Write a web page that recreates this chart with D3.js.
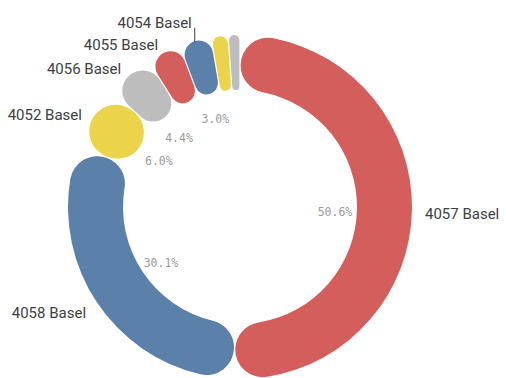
<!DOCTYPE html>
<html>
<head>
<meta charset="utf-8">
<script src="https://cdn.jsdelivr.net/npm/d3@7"></script>
<style>
  html, body { margin: 0; padding: 0; background: #fff; }
  svg { display: block; }
</style>
</head>
<body>
<script>
// Share of records per postal district, sorted by size
const categories = ["4057 Basel", "4058 Basel", "4052 Basel", "4056 Basel", "4055 Basel", "4054 Basel", "4051 Basel", "4053 Basel"];
const shares = [50.6, 30.1, 6.0, 4.4, 3.2, 3.0, 1.6, 1.1];
const palette = ["#d45e5c", "#5b80aa", "#ecd44a", "#bdbdbd"];

const W = 506, H = 378;
const cx = 240, cy = 207;
const rOuter = 172, rInner = 117;
const labelMin = 2.5; // slices below this share get no text

const svg = d3.select("body").append("svg")
  .attr("width", W).attr("height", H);
const g = svg.append("g").attr("transform", `translate(${cx},${cy})`);

const data = categories.map((c, i) => ({ name: c, value: shares[i], idx: i }));

const pie = d3.pie().sort(null).value(d => d.value);
const arcs = pie(data);

const color = d3.scaleOrdinal().domain(d3.range(categories.length)).range(palette);

const arc = d3.arc()
  .innerRadius(rInner)
  .outerRadius(rOuter)
  .cornerRadius((rOuter - rInner) / 2)
  .padRadius((rOuter + rInner) / 2)
  .padAngle(1.2 / ((rOuter + rInner) / 2));

g.selectAll("path.slice")
  .data(arcs)
  .join("path")
  .attr("class", "slice")
  .attr("d", arc)
  .attr("fill", d => color(d.data.idx));

const mid = d => (d.startAngle + d.endAngle) / 2;
const polar = (a, r) => [Math.sin(a) * r, -Math.cos(a) * r];

// Percentage labels inside the ring; smaller slices yield to neighbours already placed
const fmt = d3.format(".1f");
const placed = [];
const pctW = 35, pctH = 12, rPct = 95;
const pctLabels = arcs.filter(d => d.data.value >= labelMin)
  .slice().sort((a, b) => a.data.value - b.data.value)
  .filter(d => {
    const [x, y] = polar(mid(d), rPct);
    const hit = placed.some(p => Math.abs(p[0] - x) < pctW && Math.abs(p[1] - y) < pctH);
    if (!hit) placed.push([x, y]);
    return !hit;
  });

g.selectAll("text.pct")
  .data(pctLabels)
  .join("text")
  .attr("class", "pct")
  .attr("x", d => polar(mid(d), rPct)[0])
  .attr("y", d => polar(mid(d), rPct)[1] + 3.5)
  .attr("dy", "0.35em")
  .attr("text-anchor", "middle")
  .attr("font-family", "'DejaVu Sans Mono', monospace")
  .attr("font-size", 11.5)
  .attr("fill", "#9a9a9a")
  .text(d => fmt(d.data.value) + "%");

// Category labels outside the ring, stacked so they never overlap
const rLab = rOuter + 13;
const gap = 22;
const outer = arcs.filter(d => d.data.value >= labelMin).map(d => {
  const a = mid(d);
  const [x, y] = polar(a, rLab);
  return { d, a, x, y0: y + 3.5, y: y + 3.5, left: a > Math.PI };
});

["left", "right"].forEach(side => {
  const group = outer.filter(o => (side === "left") === o.left)
    .sort((p, q) => q.y0 - p.y0);
  let prev = Infinity;
  group.forEach(o => {
    o.y = Math.min(o.y0, prev - gap);
    prev = o.y;
  });
});

g.selectAll("text.cat")
  .data(outer)
  .join("text")
  .attr("class", "cat")
  .attr("x", o => o.x)
  .attr("y", o => o.y)
  .attr("dy", "0.35em")
  .attr("text-anchor", o => o.left ? "end" : "start")
  .attr("font-family", "Roboto, sans-serif")
  .attr("font-size", 15)
  .attr("fill", "#404040")
  .text(o => o.d.data.name);

// Leader lines for labels pushed away from their slice
const moved = outer.filter(o => o.y0 - o.y > 1);
g.selectAll("line.leader")
  .data(moved)
  .join("line")
  .attr("class", "leader")
  .attr("x1", o => o.x + (o.left ? 3 : -3))
  .attr("x2", o => o.x + (o.left ? 3 : -3))
  .attr("y1", o => o.y + 5)
  .attr("y2", o => {
    const lx = o.x + (o.left ? 3 : -3);
    return -Math.sqrt(Math.max(0, (rOuter - 1) ** 2 - lx * lx));
  })
  .attr("stroke", "#404040")
  .attr("stroke-width", 1);
</script>
</body>
</html>
